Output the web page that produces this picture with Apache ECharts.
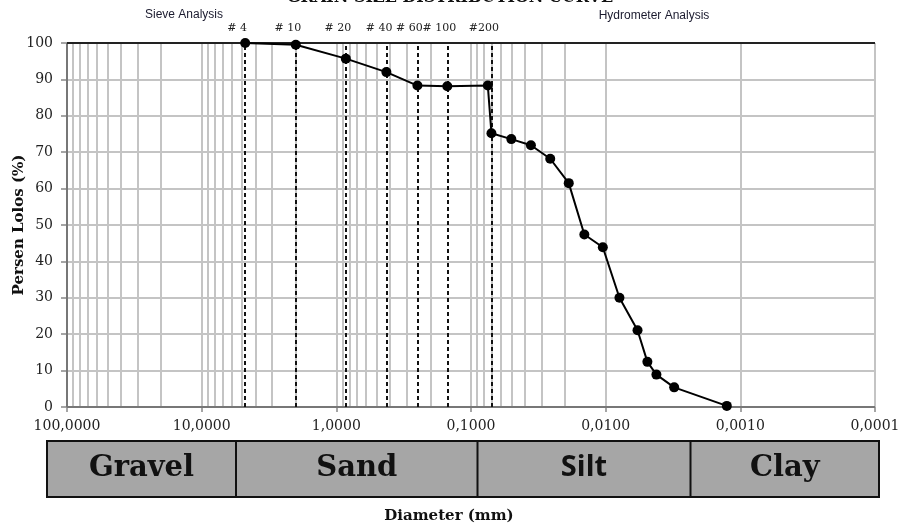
<!DOCTYPE html>
<html><head><meta charset="utf-8">
<script src="https://cdn.jsdelivr.net/npm/echarts@6/dist/echarts.min.js"></script>
<style>html,body{margin:0;padding:0;background:#fff}#c{width:900px;height:524px}</style>
</head><body><div id="c"></div>
<script>
// ---- data ----
const diameters = [4.75, 2.0, 0.85, 0.425, 0.25, 0.15, 0.075, 0.0705, 0.0502, 0.0359, 0.0258, 0.0188, 0.0144, 0.0105, 0.0079, 0.0058, 0.0049, 0.0042, 0.0031, 0.00126];
const percentPassing = [100, 99.5, 95.7, 92.0, 88.3, 88.1, 88.3, 75.2, 73.6, 71.9, 68.2, 61.5, 47.4, 43.9, 30.0, 21.1, 12.4, 8.9, 5.4, 0.3];
const sieveLabels = ['# 4', '# 10', '# 20', '# 40', '# 60', '# 100', '#200'];
const sieveSizes = [4.75, 2.0, 0.85, 0.425, 0.25, 0.15, 0.075];
const hydrometerLimit = [0.002];
const decades = [0.0001, 0.001, 0.01, 0.1, 1, 10, 100];
const minorMultipliers = [2, 3, 4, 5, 6, 7, 8, 9];
const soilClasses = ['Gravel', 'Sand', 'Silt', 'Clay'];
const titleText = 'GRAIN SIZE DISTRIBUTION CURVE';
const yName = 'Persen Lolos (%)';
const xName = 'Diameter (mm)';
const sectionLabels = ['Sieve Analysis', 'Hydrometer Analysis'];

// ---- chart ----
const chart = echarts.init(document.getElementById('c'), null, {renderer: 'canvas'});
const serif = '"DejaVu Serif"';
const gridColor = '#c4c4c4';

const minorLines = [];
decades.slice(0, -1).forEach(d => minorMultipliers.forEach(m => minorLines.push({xAxis: d * m})));

const dashedData = sieveSizes.map((s, i) => ({xAxis: s, name: sieveLabels[i]}))
  .concat(hydrometerLimit.map(h => ({xAxis: h, name: '', label: {show: false}})));

const cells = [
  {x0: 47, x1: 236, font: 'bold 29px ' + serif},
  {x0: 236, x1: 477.5, font: 'bold 29px ' + serif},
  {x0: 477.5, x1: 690.5, font: 'bold 29px "Open Sans"'},
  {x0: 690.5, x1: 879, font: 'bold 29px ' + serif}
];
const graphic = [
  {type: 'text', x: 450, y: -2, style: {text: titleText, font: 'bold 16px ' + serif, fill: '#111', align: 'center', verticalAlign: 'middle'}},
  {type: 'text', x: 184, y: 15, style: {text: sectionLabels[0], font: '12px "Liberation Sans"', fill: '#1a1a2e', align: 'center', verticalAlign: 'middle'}},
  {type: 'text', x: 654, y: 16, style: {text: sectionLabels[1], font: '12px "Liberation Sans"', fill: '#1a1a2e', align: 'center', verticalAlign: 'middle'}},
  {type: 'rect', shape: {x: 47, y: 441, width: 832, height: 56}, style: {fill: '#a6a6a6', stroke: '#111', lineWidth: 2}},
  {type: 'text', x: 449, y: 516, style: {text: xName, font: 'bold 15px ' + serif, fill: '#111', align: 'center', verticalAlign: 'middle'}}
];
cells.forEach((c, i) => {
  if (i > 0) graphic.push({type: 'line', shape: {x1: c.x0, y1: 441, x2: c.x0, y2: 497}, style: {stroke: '#111', lineWidth: 2}});
  graphic.push({type: 'text', x: (c.x0 + c.x1) / 2, y: 468, style: {text: soilClasses[i], font: c.font, fill: '#111', align: 'center', verticalAlign: 'middle'}});
});

chart.setOption({
  animation: false,
  backgroundColor: '#fff',
  grid: {left: 67, right: 25, top: 43, bottom: 117, containLabel: false, outerBoundsMode: 'none'},
  xAxis: {
    type: 'log', logBase: 10, min: 0.0001, max: 100, inverse: true,
    axisLine: {show: false},
    axisTick: {show: true, length: 5, lineStyle: {color: '#888', width: 1.5}},
    axisLabel: {margin: 12, fontFamily: serif, fontSize: 14, color: '#222',
      formatter: v => Number(v).toFixed(4).replace('.', ',')},
    splitLine: {show: true, lineStyle: {color: gridColor, width: 2}},
    minorTick: {show: false}
  },
  yAxis: {
    type: 'value', min: 0, max: 100, interval: 10,
    name: yName, nameLocation: 'middle', nameGap: 40, nameRotate: 90, nameMoveOverlap: false,
    nameTextStyle: {fontFamily: serif, fontWeight: 'bold', fontSize: 15, color: '#111'},
    axisLine: {show: false},
    axisTick: {show: true, length: 6, lineStyle: {color: '#888', width: 1.5}},
    axisLabel: {margin: 14, fontFamily: serif, fontSize: 14, color: '#222'},
    splitLine: {show: true, lineStyle: {color: gridColor, width: 2}}
  },
  graphic: graphic,
  series: [
    {
      type: 'line', data: [], z: 1, silent: true,
      markLine: {silent: true, symbol: 'none', animation: false, label: {show: false},
        lineStyle: {color: gridColor, width: 2, type: 'solid'}, data: minorLines}
    },
    {
      type: 'line', data: [], z: 2, silent: true,
      markLine: {silent: true, symbol: 'none', animation: false,
        lineStyle: {color: '#333', width: 2, type: 'solid'},
        label: {show: false},
        data: [{xAxis: 100, lineStyle: {color: '#777'}}, {yAxis: 0, lineStyle: {color: '#777'}},
               {yAxis: 100, lineStyle: {color: '#222'}}, {xAxis: 0.0001, lineStyle: {color: '#222'}}]}
    },
    {
      type: 'line', data: [], z: 3, silent: true,
      markLine: {silent: true, symbol: 'none', animation: false,
        lineStyle: {color: '#111', width: 2, type: [4, 3]},
        label: {show: true, position: 'end', distance: 9, formatter: '{b}',
          fontFamily: serif, fontSize: 11, color: '#222', padding: [0, 16, 0, 0]},
        data: dashedData}
    },
    {
      type: 'line', z: 5,
      data: diameters.map((d, i) => [d, percentPassing[i]]),
      symbol: 'circle', symbolSize: 10,
      lineStyle: {color: '#000', width: 2},
      itemStyle: {color: '#000'}
    }
  ]
});
</script>
</body></html>
